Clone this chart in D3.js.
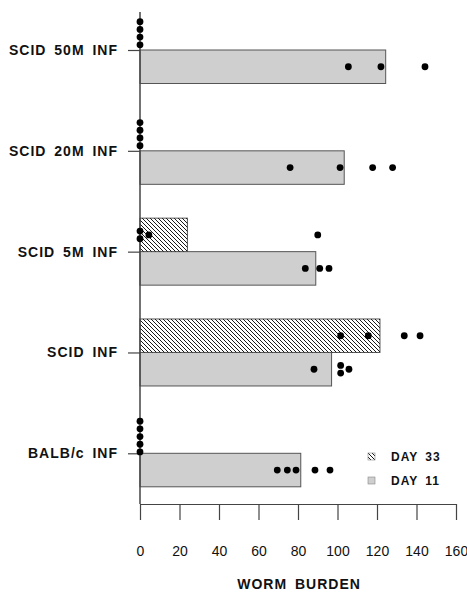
<!DOCTYPE html>
<html>
<head>
<meta charset="utf-8">
<script src="https://cdn.jsdelivr.net/npm/d3@7"></script>
<style>
  body { margin: 0; background: #fff; }
  svg { display: block; font-family: "Liberation Sans", Arial, sans-serif; }
  .cat text { font-weight: bold; font-size: 14px; letter-spacing: 1px; word-spacing: 3px; fill: #111; }
  .xax text { font-size: 14px; fill: #111; }
</style>
</head>
<body>
<svg id="chart" width="467" height="592"></svg>
<script>
// groups from top to bottom
var groups = ["SCID 50M INF", "SCID 20M INF", "SCID 5M INF", "SCID INF", "BALB/c INF"];
var days = ["DAY 33", "DAY 11"];

// bar heights (mean worm burden)
var day33Means = [0, 0, 24, 121.5, 0];
var day11Means = [124.4, 103.4, 89, 97, 81.4];

// individual mice
var day33Points = [
  [0, 0, 0, 0],
  [0, 0, 0, 0],
  [0, 4.5, 0, 90],
  [101.6, 115.6, 133.8, 141.8],
  [0, 0, 0, 0, 0]
];
var day11Points = [
  [105.5, 122, 144.3],
  [76, 101.3, 117.8, 127.9],
  [83.7, 91, 95.7],
  [88.1, 101.6, 105.8, 101.6],
  [69.5, 74.6, 79, 88.6, 96.2]
];

var xTicks = [0, 20, 40, 60, 80, 100, 120, 140, 160];
var xTitle = "WORM BURDEN";

var svg = d3.select("#chart");

var plotTop = 12, plotBottom = 504;
var barH = 33.5, r = 3.4, slot = 7.7;

var x = d3.scaleLinear().domain([0, 160]).range([140, 456]);
var y = d3.scalePoint().domain(groups).range([50, 453.3]);

// hatch for day 33
var defs = svg.append("defs");
defs.append("pattern")
    .attr("id", "hatch")
    .attr("patternUnits", "userSpaceOnUse")
    .attr("width", 4)
    .attr("height", 4)
  .append("path")
    .attr("d", "M-1,3 l2,2 M0,0 l4,4 M3,-1 l2,2")
    .attr("stroke", "#1a1a1a")
    .attr("stroke-width", 1);

var fills = {"DAY 33": "url(#hatch)", "DAY 11": "#cfcfcf"};

// bar rows
var rows = [];
groups.forEach(function(g, i) {
  rows.push({group: g, day: "DAY 33", mean: day33Means[i], pts: day33Points[i], top: y(g) - barH});
  rows.push({group: g, day: "DAY 11", mean: day11Means[i], pts: day11Points[i], top: y(g)});
});

svg.append("g").selectAll("rect")
  .data(rows.filter(function(d) { return d.mean > 0; }))
  .enter().append("rect")
    .attr("x", x(0))
    .attr("y", function(d) { return d.top; })
    .attr("width", function(d) { return x(d.mean) - x(0); })
    .attr("height", barH)
    .attr("fill", function(d) { return d.day == "DAY 33" ? "#fff" : fills[d.day]; })
    .attr("stroke", "#555")
    .attr("stroke-width", 1);

svg.append("g").selectAll("rect")
  .data(rows.filter(function(d) { return d.mean > 0 && d.day == "DAY 33"; }))
  .enter().append("rect")
    .attr("x", x(0))
    .attr("y", function(d) { return d.top; })
    .attr("width", function(d) { return x(d.mean) - x(0); })
    .attr("height", barH)
    .attr("fill", "url(#hatch)");

// spread overlapping dots vertically around band centre
function placeDots(row) {
  var out = [], clusters = [];
  row.pts.forEach(function(v) {
    var px = x(v), c = null;
    clusters.forEach(function(cl) {
      cl.forEach(function(o) { if (Math.abs(o - px) < 2 * r) c = cl; });
    });
    if (c) c.push(px); else clusters.push([px]);
  });
  var cy = row.top + barH / 2;
  clusters.forEach(function(cl) {
    cl.forEach(function(px, k) {
      out.push({cx: px, cy: cy + (k - (cl.length - 1) / 2) * slot});
    });
  });
  return out;
}

var dots = [];
rows.forEach(function(row) { dots = dots.concat(placeDots(row)); });

// axes
var yAxis = svg.append("g")
    .attr("class", "cat")
    .attr("transform", "translate(" + x(0) + ",0)")
    .call(d3.axisLeft(y).tickSize(12).tickPadding(10));
yAxis.select(".domain").remove();
yAxis.selectAll("line").attr("stroke", "#444").attr("stroke-width", 1.2);

svg.append("line")
    .attr("x1", x(0)).attr("x2", x(0))
    .attr("y1", plotTop).attr("y2", plotBottom)
    .attr("stroke", "#444")
    .attr("stroke-width", 1.5);

var xAxis = svg.append("g")
    .attr("class", "xax")
    .attr("transform", "translate(0," + plotBottom + ")")
    .call(d3.axisBottom(x).tickValues(xTicks).tickSize(16).tickPadding(26).tickSizeOuter(0));
xAxis.select(".domain").attr("stroke", "#444").attr("stroke-width", 1.2);
xAxis.selectAll("line").attr("stroke", "#444").attr("stroke-width", 1.2);
xAxis.selectAll("text").attr("font-family", null);

svg.append("text")
    .attr("x", (x(0) + x(160)) / 2 + 1)
    .attr("y", 589)
    .attr("text-anchor", "middle")
    .style("font-weight", "bold")
    .style("font-size", "14px")
    .style("letter-spacing", "1px")
    .style("word-spacing", "3px")
    .attr("fill", "#111")
    .text(xTitle);

svg.append("g").selectAll("circle")
  .data(dots)
  .enter().append("circle")
    .attr("cx", function(d) { return d.cx; })
    .attr("cy", function(d) { return d.cy; })
    .attr("r", r)
    .attr("fill", "#000");

// legend
var legend = svg.append("g").selectAll("g")
  .data(days)
  .enter().append("g")
    .attr("transform", function(d, i) { return "translate(368," + (453 + i * 24) + ")"; });

legend.append("rect")
    .attr("width", 7)
    .attr("height", 7)
    .attr("fill", function(d) { return fills[d]; })
    .attr("stroke", "#888")
    .attr("stroke-width", 0.6);

legend.append("text")
    .attr("x", 23)
    .attr("y", 8)
    .style("font-weight", "bold")
    .style("font-size", "12px")
    .style("letter-spacing", "1px")
    .style("word-spacing", "3px")
    .attr("fill", "#111")
    .text(function(d) { return d; });
</script>
</body>
</html>
